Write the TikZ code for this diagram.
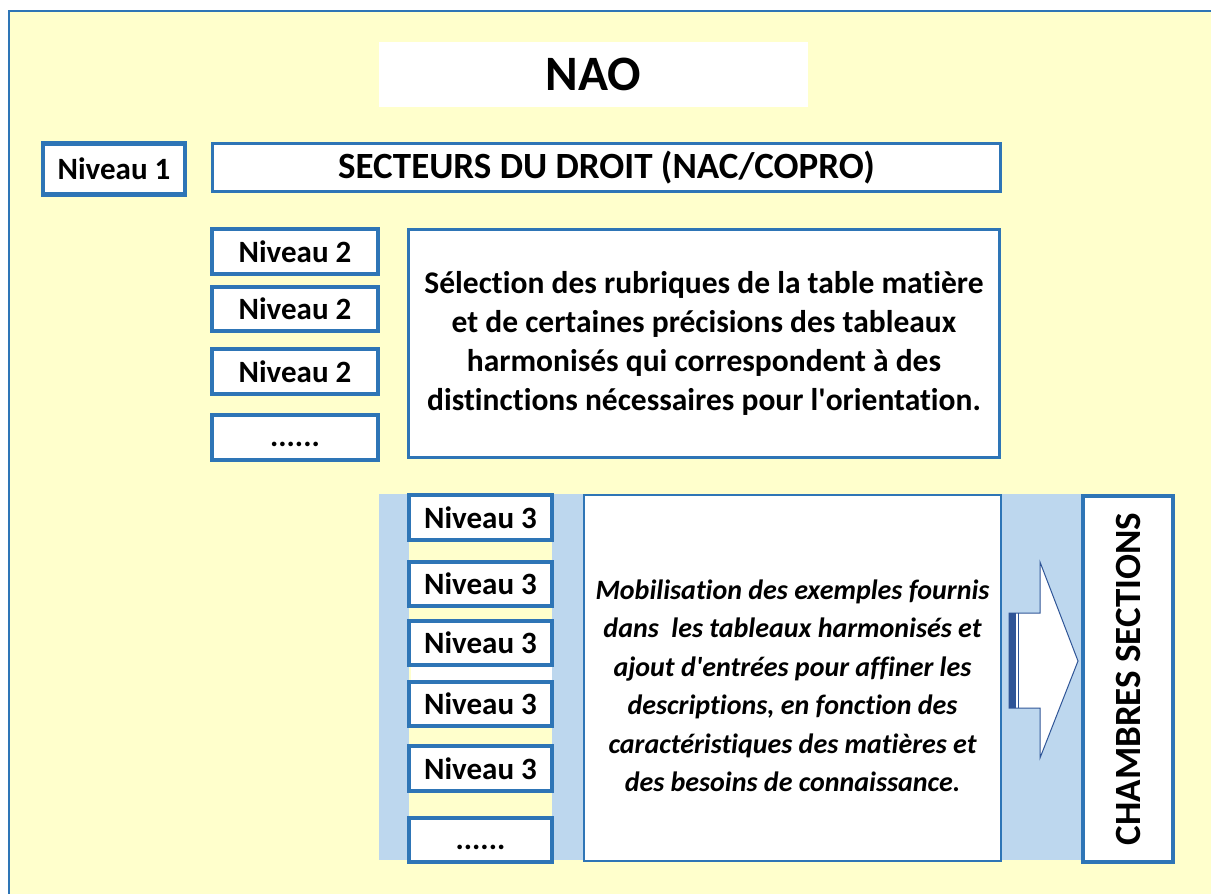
\documentclass[tikz,border=0pt]{standalone}
\usepackage{fontspec}
\setmainfont{Carlito}[Ligatures={TeX,NoCommon}]
\definecolor{frameblue}{HTML}{2E75B6}
\definecolor{paleyellow}{HTML}{FFFFCC}
\definecolor{paleblue}{HTML}{BDD7EE}
\definecolor{arrowblue}{HTML}{2F5597}
\begin{document}
\begin{tikzpicture}[x=1pt,y=-1pt,
  lvlbox/.style={draw=frameblue, line width=4.5pt, fill=white, inner sep=0pt,
    font=\fontsize{31}{36}\selectfont\bfseries},
  bigbox/.style={draw=frameblue, line width=3pt, fill=white, inner sep=0pt, align=center},
  dotsbox/.style={lvlbox, text depth=0pt, text height=18pt}]
\useasboundingbox (0,0) rectangle (1211,894);
\fill[white] (0,0) rectangle (1211,894);
% outer frame
\draw[frameblue, line width=2pt, fill=paleyellow] (9,11) rectangle (1230,910);
% NAO
\node[fill=white, minimum width=429pt, minimum height=65pt, inner sep=0pt,
  font=\fontsize{49.5}{56}\selectfont\bfseries] (nao) at (593.5,74.5) {NAO};
% level 1
\node[lvlbox, minimum width=142pt, minimum height=51pt] (n1) at (114,169) {Niveau 1};
\node[bigbox, minimum width=788pt, minimum height=48pt,
  font=\fontsize{37}{42}\selectfont\bfseries] (sect) at (606.5,167.5) {SECTEURS DU DROIT (NAC/COPRO)};
% level 2
\node[lvlbox, minimum width=166pt, minimum height=45pt] (n2a) at (295,251.5) {Niveau 2};
\node[lvlbox, minimum width=166pt, minimum height=44pt] (n2b) at (295,309) {Niveau 2};
\node[lvlbox, minimum width=166pt, minimum height=45pt] (n2c) at (295,371.5) {Niveau 2};
\node[dotsbox, minimum width=166pt, minimum height=45pt] (n2d) at (295,437.5) {......};
\node[bigbox, minimum width=591pt, minimum height=228pt] (sel) at (704,343.5) {};
\node[align=center, inner sep=0pt, font=\fontsize{31.5}{39}\selectfont\bfseries] (seltext) at (sel.center)
  {Sélection des rubriques de la table matière\\
   et de certaines précisions des tableaux\\
   harmonisés qui correspondent à des\\
   distinctions nécessaires pour l\textquotesingle orientation.};
% blue band
\fill[paleblue] (379,494) rectangle (1081,860);
\fill[paleyellow] (409,494) rectangle (552,860);
\fill[white] (411,667) rectangle (552,680);
% level 3
\node[lvlbox, minimum width=143pt, minimum height=45pt] (n3a) at (480.5,517.5) {Niveau 3};
\node[lvlbox, minimum width=143pt, minimum height=44pt] (n3b) at (480.5,584) {Niveau 3};
\node[lvlbox, minimum width=143pt, minimum height=44pt] (n3c) at (480.5,643) {Niveau 3};
\node[lvlbox, minimum width=143pt, minimum height=44pt] (n3d) at (480.5,704) {Niveau 3};
\node[lvlbox, minimum width=143pt, minimum height=45pt] (n3e) at (480.5,768.5) {Niveau 3};
\node[dotsbox, minimum width=143pt, minimum height=44pt] (n3f) at (480.5,840) {......};
\node[bigbox, line width=2.5pt, minimum width=417pt, minimum height=366pt] (mob) at (792.5,678) {};
\node[align=center, inner sep=0pt, font=\fontsize{28}{38.5}\selectfont\bfseries\itshape]
  (mobtext) at ([yshift=-8pt]mob.center)
  {Mobilisation des exemples fournis\\
   dans\ \ les tableaux harmonisés et\\
   ajout d\textquotesingle entrées pour affiner les\\
   descriptions, en fonction des\\
   caractéristiques des matières et\\
   des besoins de connaissance.};
% arrow
\draw[arrowblue, line width=1pt, fill=white, line join=miter]
  (1009,613) -- (1040,613) -- (1040,562) -- (1078,661) -- (1040,758) -- (1040,708) -- (1009,708) -- cycle;
\fill[arrowblue] (1009,613) rectangle (1015.5,708);
\draw[arrowblue, line width=1pt] (1018.5,613) -- (1018.5,708);
% chambres
\node[lvlbox, line width=4pt, minimum width=90pt, minimum height=366pt] (ch) at (1128,679) {};
\node[rotate=90, font=\fontsize{37}{44}\selectfont\bfseries] (chtext) at (ch.center) {CHAMBRES SECTIONS};
\end{tikzpicture}
\end{document}
